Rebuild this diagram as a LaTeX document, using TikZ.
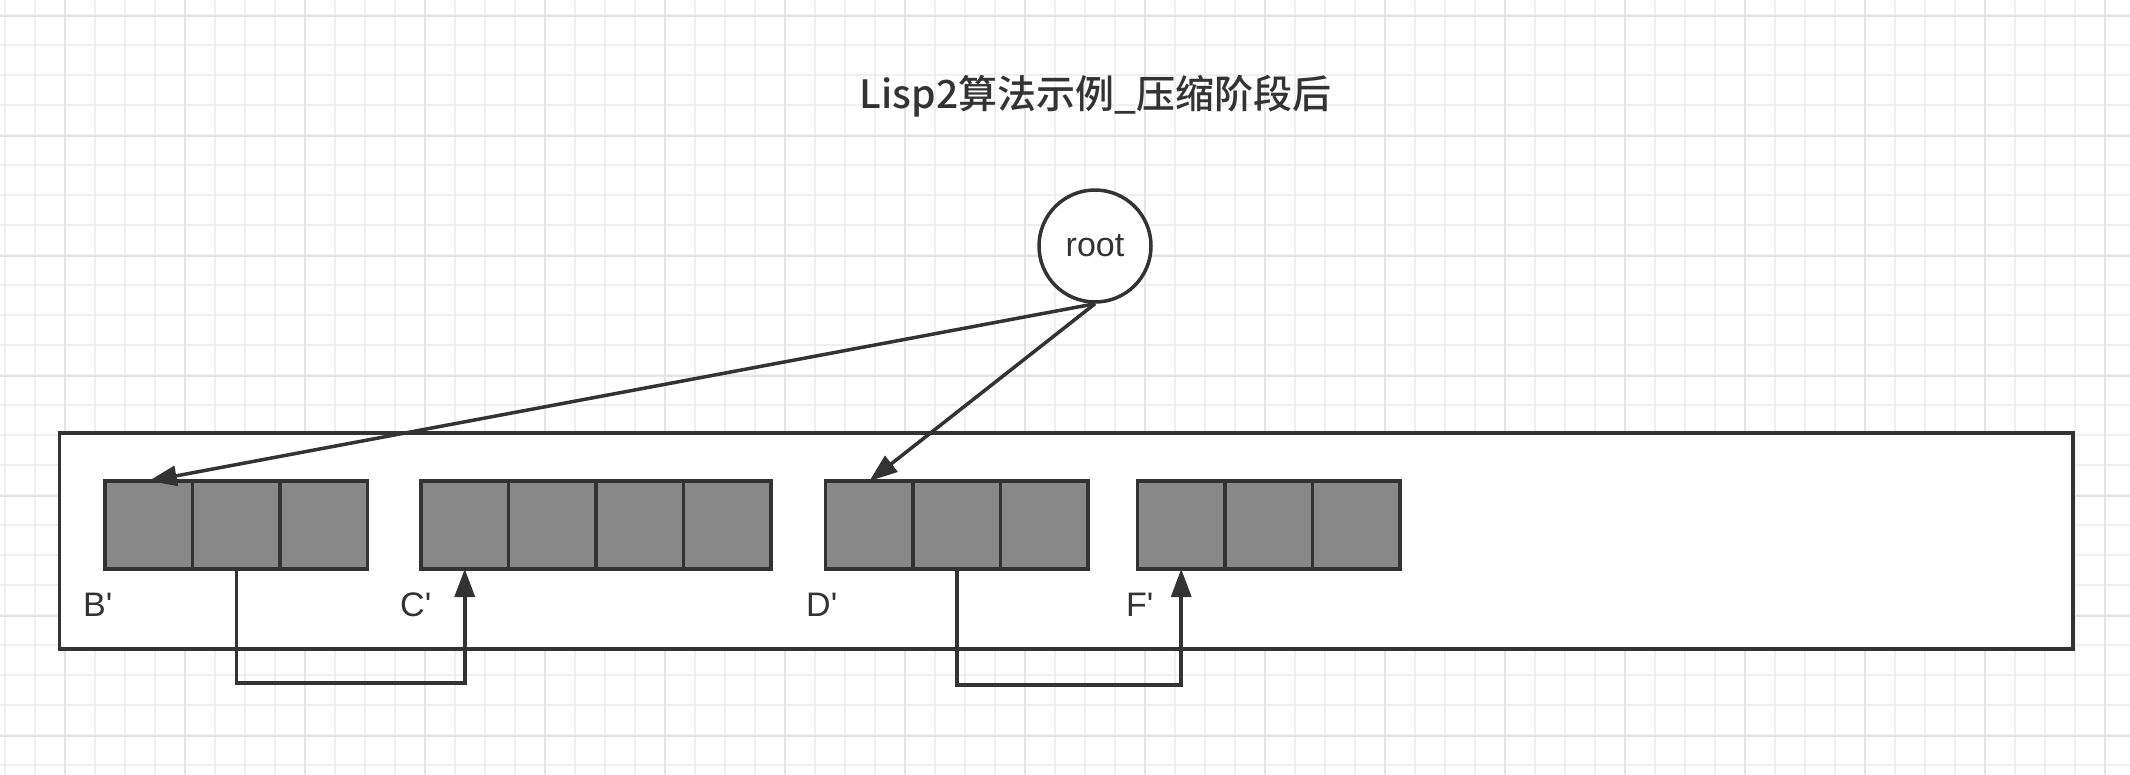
\documentclass[tikz,border=0pt]{standalone}
\usepackage{fontspec}
\setmainfont{Liberation Sans}
\newfontfamily\cjk{Noto Sans CJK SC}[BoldFont={Noto Sans CJK SC Medium}]
\usetikzlibrary{arrows.meta,positioning}

\definecolor{ink}{HTML}{333333}
\definecolor{cellgray}{HTML}{888888}
\definecolor{gridminor}{HTML}{EFEFF2}
\definecolor{gridmajor}{HTML}{E3E3E8}

\begin{document}
\begin{tikzpicture}[yscale=-1
  ,gstyle0/.style={color=gridminor,line width=2pt}
  ,gstyle1/.style={color=gridmajor,line width=2pt}
  ,pstyle0/.style={color=ink,fill=white,line width=3.5pt}
  ,pstyle1/.style={color=ink,line width=3.5pt,-{Triangle[length=28pt,width=20pt]}}
  ,cell/.style={draw=ink,fill=cellgray,line width=3.5pt,minimum width=87.5pt,minimum height=88pt,inner sep=0pt,outer sep=0pt}
  ,lbl/.style={anchor=base west,inner sep=0pt,color=ink,font=\fontsize{34pt}{40pt}\selectfont}
]
\useasboundingbox (0pt,0pt) rectangle (2130pt,774pt);

% --- background grid ---
\foreach \x in {5,35,...,2125} \draw[gstyle0] (\x pt,0pt) -- (\x pt,774pt);
\foreach \y in {15,45,...,765} \draw[gstyle0] (0pt,\y pt) -- (2130pt,\y pt);
\foreach \x in {65,185,...,2105} \draw[gstyle1] (\x pt,0pt) -- (\x pt,774pt);
\foreach \y in {16,136,...,736} \draw[gstyle1] (0pt,\y pt) -- (2130pt,\y pt);

% --- title ---
\node (title) at (1095.5pt,108pt)[anchor=base,inner sep=0pt,color=ink]{\cjk\bfseries\fontsize{39pt}{45pt}\selectfont Lisp2算法示例\_压缩阶段后};

% --- heap area ---
\draw[pstyle0] (59.5pt,433pt) rectangle (2073pt,649pt);

% --- root ---
\node[circle,draw=ink,fill=white,line width=3.5pt,minimum size=112pt,inner sep=0pt] (root) at (1095pt,246pt)
  {\fontsize{34pt}{40pt}\selectfont\color{ink}root};

% --- objects ---
\node[cell] (b1) at (148.75pt,525pt) {};
\node[cell,right=0pt of b1] (b2) {};
\node[cell,right=0pt of b2] (b3) {};
\node[lbl] (bname) at (83pt,616pt) {B\textquotesingle};

\node[cell] (c1) at (464.75pt,525pt) {};
\node[cell,right=0pt of c1] (c2) {};
\node[cell,right=0pt of c2] (c3) {};
\node[cell,right=0pt of c3] (c4) {};
\node[lbl] (cname) at (400pt,616pt) {C\textquotesingle};

\node[cell] (d1) at (869.4pt,525pt) {};
\node[cell,right=0pt of d1] (d2) {};
\node[cell,right=0pt of d2] (d3) {};
\node[lbl] (dname) at (806pt,616pt) {D\textquotesingle};

\node[cell] (f1) at (1181.2pt,525pt) {};
\node[cell,right=0pt of f1] (f2) {};
\node[cell,right=0pt of f2] (f3) {};
\node[lbl] (fname) at (1126pt,616pt) {F\textquotesingle};

% --- pointers ---
\draw[pstyle1] (root.south) -- (b1.north);
\draw[pstyle1] (root.south) -- (d1.north);
\draw[pstyle1] (b2.south) -- ++(0pt,114pt) -| (c1.south);
\draw[pstyle1] (d2.south) -- ++(0pt,116pt) -| (f1.south);

\end{tikzpicture}
\end{document}
